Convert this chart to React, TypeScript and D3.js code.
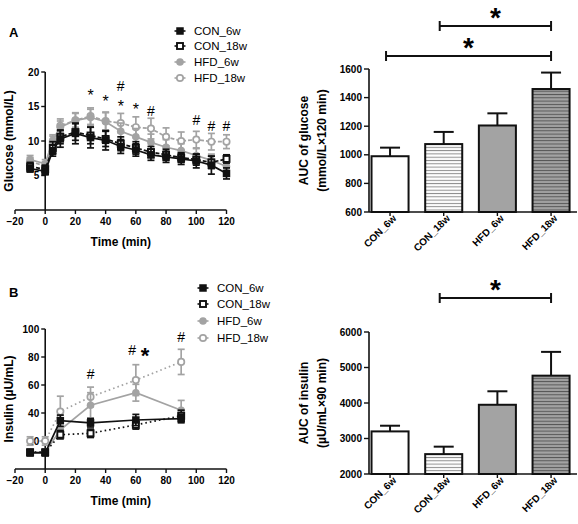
import React from 'react';
import * as d3 from 'd3';

// ---------- data ----------
const groups = ['CON_6w', 'CON_18w', 'HFD_6w', 'HFD_18w'];

const glucoseTimes = [-10, 0, 5, 10, 20, 30, 40, 50, 60, 70, 80, 90, 100, 110, 120];
const gluCon6 = [6.0, 5.6, 8.6, 10.3, 11.1, 10.5, 10.1, 9.2, 8.7, 8.0, 7.7, 7.4, 7.1, 6.5, 5.3];
const gluCon6Err = [0.5, 0.5, 0.8, 1.2, 1.5, 1.5, 1.4, 1.0, 0.9, 0.8, 0.8, 0.8, 1.0, 1.3, 0.8];
const gluCon18 = [6.3, 5.9, 9.0, 10.6, 11.3, 10.8, 10.3, 9.6, 9.0, 8.4, 8.0, 7.6, 7.3, 6.9, 7.4];
const gluCon18Err = [0.6, 0.6, 0.9, 1.0, 1.2, 1.2, 1.1, 1.0, 0.9, 0.8, 0.8, 0.7, 0.8, 0.9, 0.6];
const gluHfd6 = [7.3, 6.7, 10.1, 12.0, 13.0, 13.4, 12.8, 11.4, 10.6, 9.8, 9.1, 8.6, 7.9, 7.2, 6.3];
const gluHfd6Err = [0.6, 0.6, 0.8, 0.9, 1.0, 1.2, 1.3, 1.2, 1.2, 1.2, 1.1, 1.0, 1.0, 0.9, 0.8];
const gluHfd18 = [7.0, 6.4, 9.8, 12.2, 13.0, 13.6, 12.9, 12.6, 12.0, 11.8, 10.6, 10.0, 10.2, 9.9, 9.9];
const gluHfd18Err = [0.6, 0.6, 0.9, 1.0, 1.1, 1.2, 1.3, 1.4, 1.5, 1.5, 1.3, 1.3, 1.2, 1.2, 1.0];

const insulinTimes = [-10, 0, 10, 30, 60, 90];
const insCon6 = [11.5, 11.5, 34.5, 33, 35, 36];
const insCon6Err = [2, 2, 4, 3, 4, 3];
const insCon18 = [12, 12, 24.5, 25.5, 31.5, 38];
const insCon18Err = [2, 2, 3, 3, 3, 4];
const insHfd6 = [12, 12, 28, 45.5, 54.5, 42];
const insHfd6Err = [2, 2, 5, 9, 6, 7];
const insHfd18 = [20, 20, 41, 51.5, 63.5, 76.5];
const insHfd18Err = [3, 3, 11, 7, 11, 9];

const aucGlucose = [990, 1075, 1205, 1460];
const aucGlucoseErr = [60, 85, 85, 115];
const aucInsulin = [3200, 2560, 3950, 4770];
const aucInsulinErr = [160, 210, 380, 670];

const timeTicks = [-20, 0, 20, 40, 60, 80, 100, 120];
const glucoseTicks = [5, 10, 15, 20];
const insulinTicks = [20, 40, 60, 80, 100];
const aucGluTicks = [600, 800, 1000, 1200, 1400, 1600];
const aucInsTicks = [2000, 3000, 4000, 5000, 6000];

// annotations: [time, value-level of glyph centre, symbol]
const gluMarks: [number, number, string][] = [
  [30, 17.2, '*'], [40, 16.3, '*'], [50, 18.0, '#'], [50, 15.6, '*'], [60, 15.1, '*'],
  [70, 14.4, '#'], [100, 13.0, '#'], [110, 12.2, '#'], [120, 12.2, '#'],
];
const insMarks: [number, number, string][] = [
  [30, 68, '#'], [57.5, 85, '#'], [90, 94.3, '#'],
];
const insBigStar: [number, number] = [66, 85];

// ---------- style ----------
const FONT = '"Liberation Sans", Arial, Helvetica, sans-serif';
const GREY = '#a3a3a3';
const BLACK = '#111';

type Series = {
  name: string; values: number[]; errs: number[]; color: string;
  filled: boolean; shape: 'square' | 'circle'; dash?: string;
};

const Marker = ({ x, y, s }: { x: number; y: number; s: Series }) => {
  if (s.shape === 'square') {
    const a = s.filled ? 7.5 : 6;
    return (
      <rect x={x - a / 2} y={y - a / 2} width={a} height={a}
        fill={s.filled ? s.color : '#fff'} stroke={s.color} strokeWidth={s.filled ? 0 : 1.9} />
    );
  }
  return (
    <circle cx={x} cy={y} r={s.filled ? 3.8 : 3.2}
      fill={s.filled ? s.color : '#fff'} stroke={s.color} strokeWidth={s.filled ? 0 : 1.7} />
  );
};

const glyphBaseline = (sym: string, cy: number, fs: number) =>
  sym === '*' ? cy + 0.58 * fs : cy + 0.36 * fs;

function LinePanel(props: {
  times: number[]; series: Series[]; y: d3.ScaleLinear<number, number>;
  yTicks: number[]; yLabel: string; marks: [number, number, string][];
  legend: { x: number; ys: number[] }; letter: string; letterY: number;
  bigStar?: [number, number];
}) {
  const { times, series, y, yTicks, yLabel, marks, legend, letter, letterY, bigStar } = props;
  const x = d3.scaleLinear().domain([-20, 120]).range([15, 226.5]);
  const y0 = y(0);
  const yTop = y(yTicks[yTicks.length - 1]);
  const line = (s: Series) =>
    d3.line<number>().x((_, i) => x(times[i])).y((v) => y(v))(s.values) || '';
  const yMid = (y0 + yTop) / 2;
  return (
    <g fontFamily={FONT}>
      <text x={9} y={letterY} fontSize={13} fontWeight="bold">{letter}</text>
      {/* axes */}
      <line x1={x(-20)} x2={x(120)} y1={y0} y2={y0} stroke={BLACK} strokeWidth={1.6} />
      <line x1={x(0)} x2={x(0)} y1={y0} y2={yTop} stroke={BLACK} strokeWidth={1.6} />
      {timeTicks.map((t) => (
        <g key={t}>
          <line x1={x(t)} x2={x(t)} y1={y0} y2={y0 + 4} stroke={BLACK} strokeWidth={1.4} />
          <text x={x(t)} y={y0 + 15} fontSize={10} fontWeight="bold" textAnchor="middle">
            {t < 0 ? '\u2212' + Math.abs(t) : t}
          </text>
        </g>
      ))}
      {yTicks.map((t) => (
        <g key={t}>
          <line x1={x(0) - 4} x2={x(0)} y1={y(t)} y2={y(t)} stroke={BLACK} strokeWidth={1.4} />
          <text x={x(0) - 6} y={y(t) + 3.5} fontSize={10} fontWeight="bold" textAnchor="end">{t}</text>
        </g>
      ))}
      <text x={x(50)} y={y0 + 36} fontSize={12} fontWeight="bold" textAnchor="middle">Time (min)</text>
      <text transform={`translate(13,${yMid}) rotate(-90)`} fontSize={12} fontWeight="bold" textAnchor="middle">{yLabel}</text>
      {/* series */}
      {series.map((s) => (
        <g key={s.name}>
          <path d={line(s)} fill="none" stroke={s.color} strokeWidth={1.7} strokeDasharray={s.dash} />
          {s.values.map((v, i) => (
            <g key={i} stroke={s.color} strokeWidth={1.7}>
              <line x1={x(times[i])} x2={x(times[i])} y1={y(v - s.errs[i])} y2={y(v + s.errs[i])} />
              <line x1={x(times[i]) - 3.5} x2={x(times[i]) + 3.5} y1={y(v - s.errs[i])} y2={y(v - s.errs[i])} />
              <line x1={x(times[i]) - 3.5} x2={x(times[i]) + 3.5} y1={y(v + s.errs[i])} y2={y(v + s.errs[i])} />
            </g>
          ))}
          {s.values.map((v, i) => <Marker key={i} x={x(times[i])} y={y(v)} s={s} />)}
        </g>
      ))}
      {marks.map(([t, v, sym], i) => (
        <text key={i} x={x(t)} y={glyphBaseline(sym, y(v), sym === '*' ? 16 : 14)} fontSize={sym === '*' ? 16 : 14} textAnchor="middle">{sym}</text>
      ))}
      {bigStar && (
        <text x={x(bigStar[0])} y={glyphBaseline('*', y(bigStar[1]), 22)} fontSize={22} fontWeight="bold" textAnchor="middle">*</text>
      )}
      {/* legend */}
      {[...series].reverse().map((s, i) => (
        <g key={s.name}>
          <line x1={legend.x - 5.5} x2={legend.x + 5.5} y1={legend.ys[i]} y2={legend.ys[i]} stroke={s.color} strokeWidth={1.6} />
          <Marker x={legend.x} y={legend.ys[i]} s={s} />
          <text x={legend.x + 14} y={legend.ys[i] + 4} fontSize={11.5}>{s.name}</text>
        </g>
      ))}
    </g>
  );
}

function BarPanel(props: {
  values: number[]; errs: number[]; y: d3.ScaleLinear<number, number>; ticks: number[];
  label1: string; label2: string; brackets: { from: string; to: string; y: number }[];
}) {
  const { values, errs, y, ticks, label1, label2, brackets } = props;
  const xb = d3.scaleBand<string>().domain(groups).range([363.2, 577.9]).paddingInner(0.31).paddingOuter(0.155);
  const bw = xb.bandwidth();
  const y0 = y(ticks[0]);
  const yTop = y(ticks[ticks.length - 1]);
  const fills = ['#fff', 'url(#stripeWhite)', GREY, 'url(#stripeGrey)'];
  const cx = (g: string) => (xb(g) || 0) + bw / 2;
  const mid = (y0 + yTop) / 2;
  return (
    <g fontFamily={FONT}>
      <text transform={`translate(308,${mid}) rotate(-90)`} fontSize={12} fontWeight="bold" textAnchor="middle">{label1}</text>
      <text transform={`translate(326,${mid}) rotate(-90)`} fontSize={12} fontWeight="bold" textAnchor="middle">{label2}</text>
      {ticks.map((t) => (
        <g key={t}>
          <line x1={364} x2={369} y1={y(t)} y2={y(t)} stroke={BLACK} strokeWidth={1.4} />
          <text x={362} y={y(t) + 3.5} fontSize={10} fontWeight="bold" textAnchor="end">{t}</text>
        </g>
      ))}
      {groups.map((g, i) => (
        <g key={g}>
          <line x1={cx(g)} x2={cx(g)} y1={y(values[i])} y2={y(values[i] + errs[i])} stroke={BLACK} strokeWidth={2} />
          <line x1={cx(g) - 10} x2={cx(g) + 10} y1={y(values[i] + errs[i])} y2={y(values[i] + errs[i])} stroke={BLACK} strokeWidth={2} />
          <rect x={xb(g)} y={y(values[i])} width={bw} height={y0 - y(values[i])} fill={fills[i]} stroke={BLACK} strokeWidth={2} />
          <line x1={cx(g)} x2={cx(g)} y1={y0} y2={y0 + 4} stroke={BLACK} strokeWidth={1.4} />
          <text transform={`translate(${cx(g) + 7},${y0 + 7}) rotate(-45)`} fontSize={10} fontWeight="bold" textAnchor="end">{g}</text>
        </g>
      ))}
      <line x1={369} x2={369} y1={y0} y2={yTop} stroke={BLACK} strokeWidth={1.6} />
      <line x1={369} x2={577} y1={y0} y2={y0} stroke={BLACK} strokeWidth={1.6} />
      {brackets.map((b, i) => {
        const x1 = cx(b.from) - 4, x2 = cx(b.to);
        return (
          <g key={i} stroke={BLACK} strokeWidth={2}>
            <line x1={x1} x2={x2} y1={b.y} y2={b.y} />
            <line x1={x1} x2={x1} y1={b.y - 5} y2={b.y + 5} />
            <line x1={x2} x2={x2} y1={b.y - 5} y2={b.y + 5} />
            <text x={(x1 + x2) / 2} y={glyphBaseline('*', b.y - 15, 28)} fontSize={28} fontWeight="bold" textAnchor="middle" stroke="none">*</text>
          </g>
        );
      })}
    </g>
  );
}

export default function App() {
  const gluSeries: Series[] = [
    { name: 'HFD_18w', values: gluHfd18, errs: gluHfd18Err, color: GREY, filled: false, shape: 'circle', dash: '4,2' },
    { name: 'HFD_6w', values: gluHfd6, errs: gluHfd6Err, color: GREY, filled: true, shape: 'circle' },
    { name: 'CON_18w', values: gluCon18, errs: gluCon18Err, color: BLACK, filled: false, shape: 'square', dash: '4,2' },
    { name: 'CON_6w', values: gluCon6, errs: gluCon6Err, color: BLACK, filled: true, shape: 'square' },
  ];
  const insSeries: Series[] = [
    { name: 'HFD_18w', values: insHfd18, errs: insHfd18Err, color: GREY, filled: false, shape: 'circle', dash: '1.6,3' },
    { name: 'HFD_6w', values: insHfd6, errs: insHfd6Err, color: GREY, filled: true, shape: 'circle' },
    { name: 'CON_18w', values: insCon18, errs: insCon18Err, color: BLACK, filled: false, shape: 'square', dash: '1.6,3' },
    { name: 'CON_6w', values: insCon6, errs: insCon6Err, color: BLACK, filled: true, shape: 'square' },
  ];
  const yGlu = d3.scaleLinear().domain([0, 20]).range([210, 72]);
  const yIns = d3.scaleLinear().domain([0, 100]).range([469, 329]);
  const yAucGlu = d3.scaleLinear().domain([600, 1600]).range([212, 69]);
  const yAucIns = d3.scaleLinear().domain([2000, 6000]).range([474, 332]);
  return (
    <div style={{ position: 'absolute', left: 0, top: 0 }}>
      <svg width={578} height={524} viewBox="0 0 578 524" style={{ display: 'block', background: '#fff' }}>
        <defs>
          <pattern id="stripeWhite" width={6} height={3.3} patternUnits="userSpaceOnUse">
            <rect width={6} height={3.3} fill="#fff" />
            <rect y={1.6} width={6} height={1} fill="#8a8a8a" />
          </pattern>
          <pattern id="stripeGrey" width={6} height={3.3} patternUnits="userSpaceOnUse">
            <rect width={6} height={3.3} fill={GREY} />
            <rect y={1.6} width={6} height={1} fill="#555" />
          </pattern>
        </defs>
        <LinePanel times={glucoseTimes} series={gluSeries} y={yGlu} yTicks={glucoseTicks}
          yLabel="Glucose (mmol/L)" marks={gluMarks}
          legend={{ x: 180, ys: [31, 46, 62, 78] }} letter="A" letterY={37} />
        <LinePanel times={insulinTimes} series={insSeries} y={yIns} yTicks={insulinTicks}
          yLabel={'Insulin (\u00b5U/mL)'} marks={insMarks} bigStar={insBigStar}
          legend={{ x: 203, ys: [288, 304, 321, 338] }} letter="B" letterY={297} />
        <BarPanel values={aucGlucose} errs={aucGlucoseErr} y={yAucGlu} ticks={aucGluTicks}
          label1="AUC of glucose" label2={'(mmol/L\u00d7120 min)'}
          brackets={[{ from: 'CON_18w', to: 'HFD_18w', y: 26 }, { from: 'CON_6w', to: 'HFD_18w', y: 56 }]} />
        <BarPanel values={aucInsulin} errs={aucInsulinErr} y={yAucIns} ticks={aucInsTicks}
          label1="AUC of insulin" label2={'(\u00b5U/mL\u00d790 min)'}
          brackets={[{ from: 'CON_18w', to: 'HFD_18w', y: 298 }]} />
      </svg>
    </div>
  );
}
